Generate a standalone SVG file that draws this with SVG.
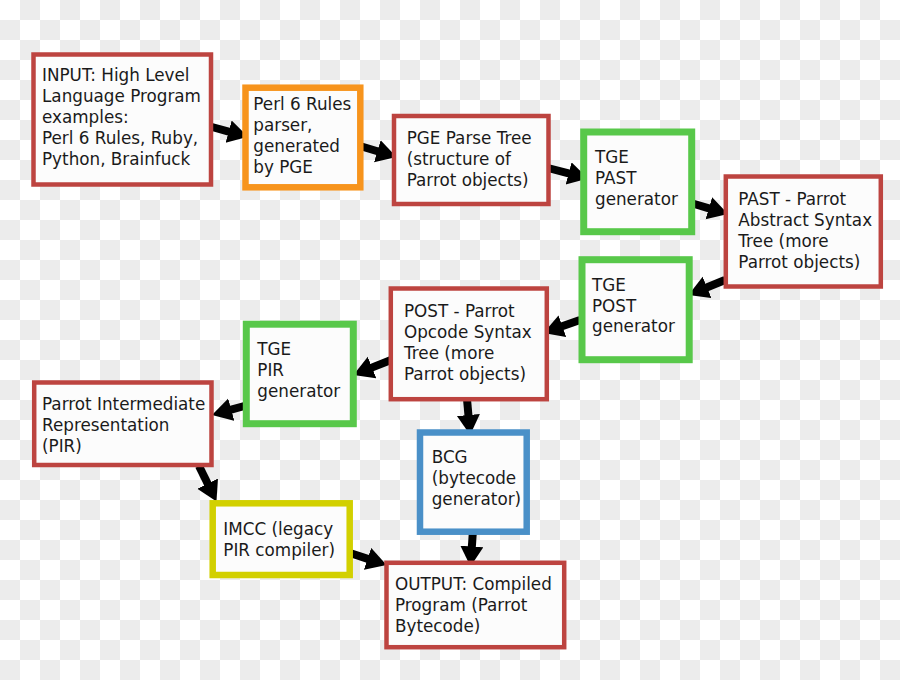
<svg xmlns="http://www.w3.org/2000/svg" width="900" height="680" viewBox="0 0 900 680">
<style>
text{font-family:"DejaVu Sans","Noto Sans",sans-serif;font-size:16.8px;fill:#1a1a1a}
.box{fill:#fcfcfc}
.red{stroke:#bd4440;stroke-width:4.5}
.org{stroke:#f7941d;stroke-width:6.5}
.grn{stroke:#58c84a;stroke-width:7}
.blu{stroke:#4a90c8;stroke-width:6.5}
.yel{stroke:#d2d000;stroke-width:6.5}
.arr{stroke:#000;stroke-width:8;fill:none;marker-end:url(#ah)}
</style>
<defs>
<pattern id="chk" width="40" height="40" patternUnits="userSpaceOnUse">
<rect width="40" height="40" fill="#ffffff"/>
<rect x="20" y="0" width="20" height="20" fill="#ececec"/>
<rect x="0" y="20" width="20" height="20" fill="#ececec"/>
</pattern>
<marker id="ah" markerUnits="userSpaceOnUse" markerWidth="22" markerHeight="24" refX="1" refY="11.5" orient="auto" viewBox="0 0 22 24">
<path d="M0,0 L20,11.5 L0,23 z" fill="#000"/>
</marker>
</defs>
<rect width="900" height="680" fill="url(#chk)"/>

<g id="connectors">
<path class="arr" d="M212,127 L229.6,131.8"/>
<path class="arr" d="M360,146 L378.3,151.5"/>
<path class="arr" d="M548,168 L569.6,173.7"/>
<path class="arr" d="M691,203 L709.8,208.6"/>
<path class="arr" d="M725,280 L706.1,287.8"/>
<path class="arr" d="M580,320 L561.4,326.6"/>
<path class="arr" d="M391,360 L371.1,367.9"/>
<path class="arr" d="M248,405 L230.3,409.9"/>
<path class="arr" d="M199,466 L208.1,484.5"/>
<path class="arr" d="M467,399 L468.5,416"/>
<path class="arr" d="M473,530 L471.8,547.5"/>
<path class="arr" d="M350,553 L368.5,559.1"/>
</g>

<g id="input">
<rect class="box red" x="33.5" y="54.5" width="177.5" height="130"/>
<text x="42" y="80.5">INPUT: High Level</text>
<text x="42" y="101.5">Language Program</text>
<text x="42" y="122.5">examples:</text>
<text x="42" y="143.5">Perl 6 Rules, Ruby,</text>
<text x="42" y="164.5">Python, Brainfuck</text>
</g>

<g id="perl6">
<rect class="box org" x="245.5" y="87.7" width="114.8" height="99.6"/>
<text x="253.3" y="110">Perl 6 Rules</text>
<text x="253.3" y="131">parser,</text>
<text x="253.3" y="152">generated</text>
<text x="253.3" y="173">by PGE</text>
</g>

<g id="pge">
<rect class="box red" x="394" y="116" width="154.5" height="88"/>
<text x="406.7" y="144.3">PGE Parse Tree</text>
<text x="406.7" y="165">(structure of</text>
<text x="406.7" y="186">Parrot objects)</text>
</g>

<g id="tgepast">
<rect class="box grn" x="583.7" y="132" width="108" height="99.7"/>
<text x="595" y="163.3">TGE</text>
<text x="595" y="184">PAST</text>
<text x="595" y="205">generator</text>
</g>

<g id="past">
<rect class="box red" x="725.8" y="176.5" width="155" height="110"/>
<text x="738.3" y="205">PAST - Parrot</text>
<text x="738.3" y="226">Abstract Syntax</text>
<text x="738.3" y="247">Tree (more</text>
<text x="738.3" y="268">Parrot objects)</text>
</g>

<g id="tgepost">
<rect class="box grn" x="582" y="259.7" width="107.2" height="100"/>
<text x="592" y="290.5">TGE</text>
<text x="592" y="311.5">POST</text>
<text x="592" y="332">generator</text>
</g>

<g id="post">
<rect class="box red" x="390.8" y="288.5" width="156" height="110.7"/>
<text x="404" y="316.7">POST - Parrot</text>
<text x="404" y="337.5">Opcode Syntax</text>
<text x="404" y="358.5">Tree (more</text>
<text x="404" y="379.5">Parrot objects)</text>
</g>

<g id="tgepir">
<rect class="box grn" x="246.3" y="324.2" width="107" height="99.5"/>
<text x="257.3" y="354.5">TGE</text>
<text x="257.3" y="375.5">PIR</text>
<text x="257.3" y="396.5">generator</text>
</g>

<g id="pir">
<rect class="box red" x="34.2" y="382.5" width="177.3" height="82.5"/>
<text x="42" y="410">Parrot Intermediate</text>
<text x="42" y="431">Representation</text>
<text x="42" y="452">(PIR)</text>
</g>

<g id="bcg">
<rect class="box blu" x="420" y="432.5" width="106.7" height="99.2"/>
<text x="431.7" y="463.3">BCG</text>
<text x="431.7" y="484.3">(bytecode</text>
<text x="431.7" y="505.3">generator)</text>
</g>

<g id="imcc">
<rect class="box yel" x="212.7" y="503.3" width="137" height="71.7"/>
<text x="223.3" y="535">IMCC (legacy</text>
<text x="223.3" y="556">PIR compiler)</text>
</g>

<g id="output">
<rect class="box red" x="386.5" y="562.8" width="177.7" height="84.4"/>
<text x="395" y="590">OUTPUT: Compiled</text>
<text x="395" y="611">Program (Parrot</text>
<text x="395" y="632">Bytecode)</text>
</g>
</svg>
